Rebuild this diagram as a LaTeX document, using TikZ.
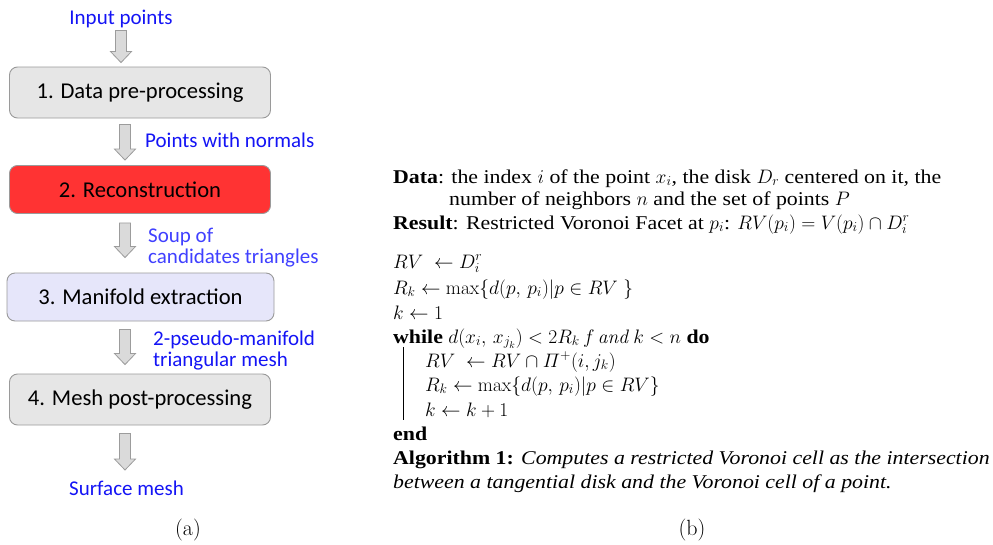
\RequirePackage{fix-cm}
\documentclass[tikz,border=0pt]{standalone}
\usepackage{fontspec}
\usetikzlibrary{calc}
\newfontfamily\lblfont{Carlito}
\newfontfamily\algfont[FakeStretch=1.12]{Liberation Serif}
\definecolor{boxgray}{HTML}{E6E6E6}
\definecolor{boxline}{HTML}{9A9A9A}
\definecolor{boxred}{HTML}{FF3333}
\definecolor{boxlav}{HTML}{E6E6FA}
\definecolor{arrfill}{HTML}{DADADA}
\definecolor{arrline}{HTML}{9C9C9C}
\definecolor{lblblue}{HTML}{1414F5}
\definecolor{lblblue2}{HTML}{4040FF}
\tikzset{
  stagebox/.style={draw=boxline, line width=0.9pt, rounded corners=8pt, inner sep=0pt,
    font=\lblfont\fontsize{22.6}{26}\selectfont, text=black},
  lbl/.style={font=\lblfont\fontsize{21}{24}\selectfont, text=lblblue, inner sep=0pt},
  alg/.style={font=\algfont\fontsize{19.5}{23}\selectfont, inner sep=0pt, anchor=base west},
  blockarr/.style={draw=arrline, fill=arrfill, line width=0.8pt, line join=miter},
  subcap/.style={font=\fontsize{22}{26}\selectfont, inner sep=0pt, anchor=base}
}
\newcommand\barrow[2]{%
  \path let \p1=(#1), \p2=(#2) in [blockarr]
    (\x1-5.5pt,\y1) -- (\x1+5.5pt,\y1) -- (\x1+5.5pt,\y2+11pt) -- (\x1+10.5pt,\y2+11pt)
    -- (\x1,\y2) -- (\x1-10.5pt,\y2+11pt) -- (\x1-5.5pt,\y2+11pt) -- cycle;}
\begin{document}
\begin{tikzpicture}[x=1pt,y=-1pt]
\useasboundingbox (0,0) rectangle (993,544);
% ---------- panel (a) ----------
\node[lbl, anchor=base] (in) at (121,24) {Input points};
\node[stagebox, fill=boxgray, minimum width=261pt, minimum height=51pt] (b1) at (140,92.5) {1. Data pre-processing};
\node[stagebox, fill=boxred, minimum width=261pt, minimum height=48pt] (b2) at (140,189.5) {2. Reconstruction};
\node[stagebox, fill=boxlav, minimum width=267pt, minimum height=48pt] (b3) at (140.5,297) {3. Manifold extraction};
\node[stagebox, fill=boxgray, minimum width=261pt, minimum height=51pt] (b4) at (140,399.5) {4. Mesh post-processing};
\node[lbl, anchor=base west] (l1) at (145,147) {Points with normals};
\node[lbl, anchor=base west, text=lblblue2] (l2a) at (148,242) {Soup of};
\node[lbl, anchor=base west, text=lblblue2] (l2b) at (148,263) {candidates triangles};
\node[lbl, anchor=base west] (l3a) at (153,345) {2-pseudo-manifold};
\node[lbl, anchor=base west] (l3b) at (153,366) {triangular mesh};
\node[lbl, anchor=base] (out) at (126.5,495) {Surface mesh};
\coordinate (a5e) at (125,470);
\barrow{$(in.south)+(0,3)$}{$(b1.north)+(-19,-4)$}
\barrow{$(b1.south)+(-15,6)$}{$(b2.north)+(-15,-5)$}
\barrow{$(b2.south)+(-15,9)$}{$(b3.north)+(-15.5,-15)$}
\barrow{$(b3.south)+(-15.5,8)$}{$(b4.north)+(-15,-9)$}
\barrow{$(b4.south)+(-15,8)$}{a5e}
\node[subcap] (capa) at (188,535) {(a)};
% ---------- panel (b) ----------
\node[alg] (d1) at (393,183) {\textbf{Data}: the index $i$ of the point $x_i$, the disk $D_r$ centered on it, the};
\node[alg] (d2) at (449,205) {number of neighbors $n$ and the set of points $P$};
\node[alg] (r1) at (393,229) {\textbf{Result}: Restricted Voronoi Facet at $p_i$: $RV(p_i)=V(p_i)\cap D_i^r$};
\node[alg] (s1) at (393,268) {$RV\ \leftarrow D_i^r$};
\node[alg] (s2) at (393,294) {$R_k\leftarrow \max\{d(p,\,p_i)|p\in RV\ \}$};
\node[alg] (s3) at (393,319) {$k\leftarrow 1$};
\node[alg] (s4) at (393,343) {\textbf{while} $d(x_i,\,x_{j_k})<2R_k\,f\,\mathit{and}\;k<n$ \textbf{do}};
\node[alg] (s5) at (425,367) {$RV\ \leftarrow RV\cap \mathnormal{\Pi}^+(i,j_k)$};
\node[alg] (s6) at (425,391) {$R_k\leftarrow \max\{d(p,\,p_i)|p\in RV\}$};
\node[alg] (s7) at (425,416) {$k\leftarrow k+1$};
\node[alg] (s8) at (393,440) {\textbf{end}};
\node[alg] (c1) at (393,464) {\textbf{Algorithm 1:} \textit{Computes a restricted Voronoi cell as the intersection}};
\node[alg] (c2) at (393,488) {\textit{between a tangential disk and the Voronoi cell of a point.}};
\draw[line width=0.7pt] ($(s5.west)+(-22,-15)$) -- ($(s7.west)+(-22,10)$);
\node[subcap] (capb) at (692,535) {(b)};
\end{tikzpicture}
\end{document}
